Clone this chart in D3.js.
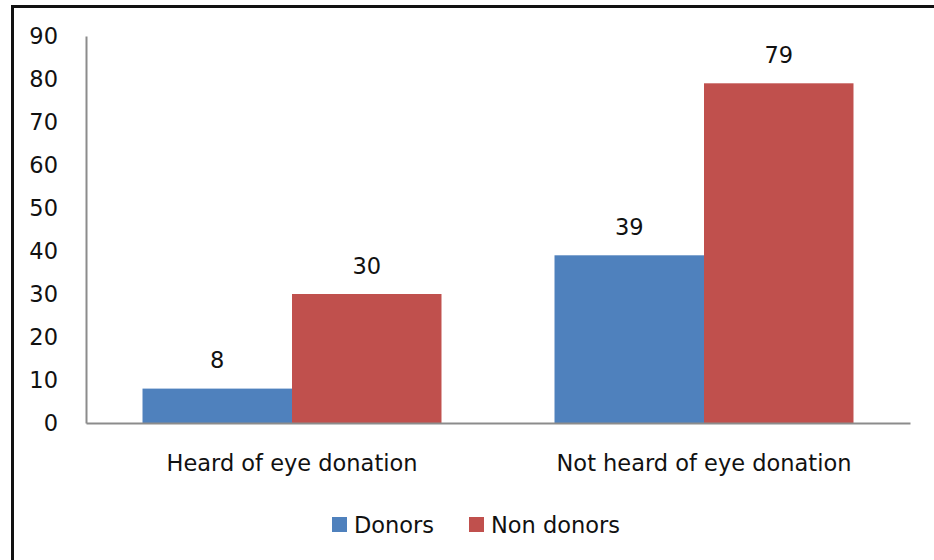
<!DOCTYPE html>
<html>
<head>
<meta charset="utf-8">
<script src="https://cdn.jsdelivr.net/npm/d3@7"></script>
<style>
  body { margin: 0; background: #fff; }
  text { font-family: "DejaVu Sans", sans-serif; fill: #111; }
</style>
</head>
<body>
<div id="chart"></div>
<script>
const categories = ["Heard of eye donation", "Not heard of eye donation"];
const seriesNames = ["Donors", "Non donors"];
const donors = [8, 39];
const nonDonors = [30, 79];
const yTicks = [0, 10, 20, 30, 40, 50, 60, 70, 80, 90];

const colors = {"Donors": "#4F81BD", "Non donors": "#C0504D"};
const font = "'DejaVu Sans', sans-serif";
const fontSize = "22.5px";
const width = 934, height = 560;
const margin = {top: 36, right: 24, bottom: 137, left: 86};

const svg = d3.select("#chart")
    .append("svg")
    .attr("width", width)
    .attr("height", height);

// frame
svg.append("rect")
    .attr("x", 12.5).attr("y", 6.5)
    .attr("width", 940).attr("height", 600)
    .attr("fill", "none")
    .attr("stroke", "#111")
    .attr("stroke-width", 3);

const x0 = d3.scaleBand()
    .domain(categories)
    .range([margin.left, width - margin.right])
    .padding(0);

const x1 = d3.scaleBand()
    .domain(seriesNames)
    .range([0, x0.bandwidth()])
    .paddingInner(0)
    .paddingOuter(0.378);

const y = d3.scaleLinear()
    .domain([0, 90])
    .range([height - margin.bottom, margin.top]);

const rows = categories.map((c, i) => ({
    category: c,
    values: [
        {series: "Donors", value: donors[i]},
        {series: "Non donors", value: nonDonors[i]}
    ]
}));

// y axis
const yAxis = d3.axisLeft(y).tickValues(yTicks).tickSize(0).tickPadding(28);
const gy = svg.append("g")
    .attr("transform", `translate(${margin.left},0)`)
    .call(yAxis);
gy.select(".domain").attr("stroke", "#8c8c8c").attr("stroke-width", 2);
gy.selectAll("text")
    .style("font-size", fontSize)
    .style("font-family", font)
    .attr("fill", "#111");

// bars
const groups = svg.selectAll("g.group")
    .data(rows)
    .enter()
    .append("g")
    .attr("class", "group")
    .attr("transform", d => `translate(${x0(d.category)},0)`);

groups.selectAll("rect")
    .data(d => d.values)
    .enter()
    .append("rect")
    .attr("x", d => x1(d.series))
    .attr("y", d => y(d.value))
    .attr("width", x1.bandwidth())
    .attr("height", d => y(0) - y(d.value))
    .attr("fill", d => colors[d.series]);

groups.selectAll("text.value")
    .data(d => d.values)
    .enter()
    .append("text")
    .attr("class", "value")
    .attr("x", d => x1(d.series) + x1.bandwidth() / 2)
    .attr("y", d => y(d.value) - 28)
    .attr("dy", "0.35em")
    .attr("text-anchor", "middle")
    .style("font-size", fontSize)
    .text(d => d.value);

// x axis
const xAxis = d3.axisBottom(x0).tickSize(0).tickPadding(32);
const gx = svg.append("g")
    .attr("transform", `translate(0,${y(0)})`)
    .call(xAxis);
gx.select(".domain").attr("stroke", "#8c8c8c").attr("stroke-width", 2);
gx.selectAll("text")
    .style("font-size", fontSize)
    .style("font-family", font)
    .attr("fill", "#111");

// legend
const legendX = [332, 469];
const legend = svg.selectAll("g.legend")
    .data(seriesNames)
    .enter()
    .append("g")
    .attr("class", "legend")
    .attr("transform", (d, i) => `translate(${legendX[i]},525)`);

legend.append("rect")
    .attr("x", 0).attr("y", -8)
    .attr("width", 15).attr("height", 15)
    .attr("fill", d => colors[d]);

legend.append("text")
    .attr("x", 22)
    .attr("dy", "0.35em")
    .style("font-size", fontSize)
    .text(d => d);
</script>
</body>
</html>
